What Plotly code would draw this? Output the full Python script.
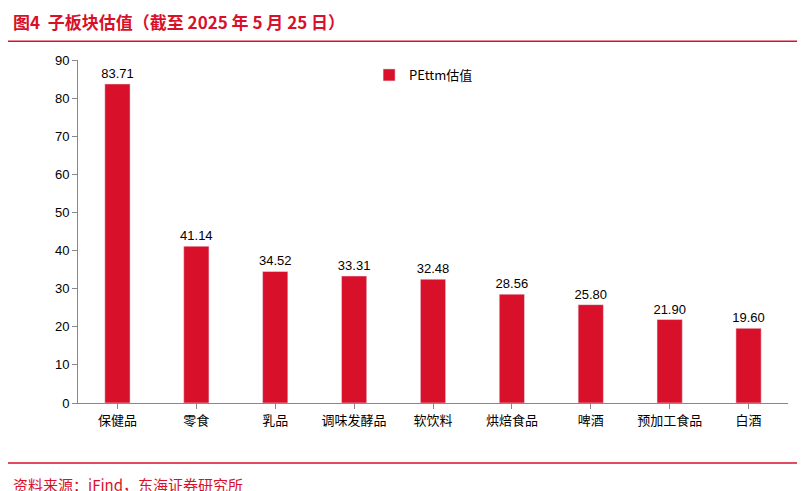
import plotly.graph_objects as go

categories = ["保健品", "零食", "乳品", "调味发酵品", "软饮料", "烘焙食品", "啤酒", "预加工食品", "白酒"]
values = [83.71, 41.14, 34.52, 33.31, 32.48, 28.56, 25.80, 21.90, 19.60]
series_name = "PEttm估值"
red = "#D9102A"
font = "Noto Sans CJK SC"

fig = go.Figure(go.Bar(
    x=categories, y=values, name=series_name, marker_color=red, width=0.32,
    text=[f"{v:.2f}" for v in values], textposition="outside", constraintext="none",
    textfont=dict(size=13, color="#000", family="Liberation Sans"), cliponaxis=False,
))
fig.update_layout(
    width=805, height=491, plot_bgcolor="white", paper_bgcolor="white",
    font=dict(family=font, size=13, color="#000"),
    margin=dict(l=70, r=25, t=52, b=96, autoexpand=False),
    showlegend=True,
    legend=dict(x=0.41, y=1.0, xanchor="left", yanchor="top", bgcolor="rgba(0,0,0,0)",
                font=dict(size=13), itemwidth=30),
    bargap=0.5,
    xaxis=dict(showline=True, linecolor="#888", ticks="outside", tickcolor="#888", ticklen=5,
               tickfont=dict(size=13), automargin=False),
    yaxis=dict(range=[0, 90], dtick=10, showline=True, linecolor="#888", ticks="outside",
               tickcolor="#888", ticklen=5, showgrid=False, zeroline=False,
               tickfont=dict(size=13, family="Liberation Sans"), automargin=False),
    shapes=[
        dict(type="line", xref="paper", yref="paper", x0=-0.1, x1=1.035, y0=1.055, y1=1.055,
             line=dict(color=red, width=1.5)),
        dict(type="line", xref="paper", yref="paper", x0=-0.1, x1=1.035, y0=-0.175, y1=-0.175,
             line=dict(color=red, width=1.5)),
    ],
    annotations=[
        dict(text="<b>图4  子板块估值（截至 2025 年 5 月 25 日）</b>", xref="paper", yref="paper",
             x=-0.095, y=1.07, xanchor="left", yanchor="bottom", showarrow=False,
             font=dict(size=17, color=red)),
        dict(text="资料来源：iFind，东海证券研究所", xref="paper", yref="paper",
             x=-0.095, y=-0.2, xanchor="left", yanchor="top", showarrow=False,
             font=dict(size=15, color=red)),
    ],
)
fig.write_html("out.html")
